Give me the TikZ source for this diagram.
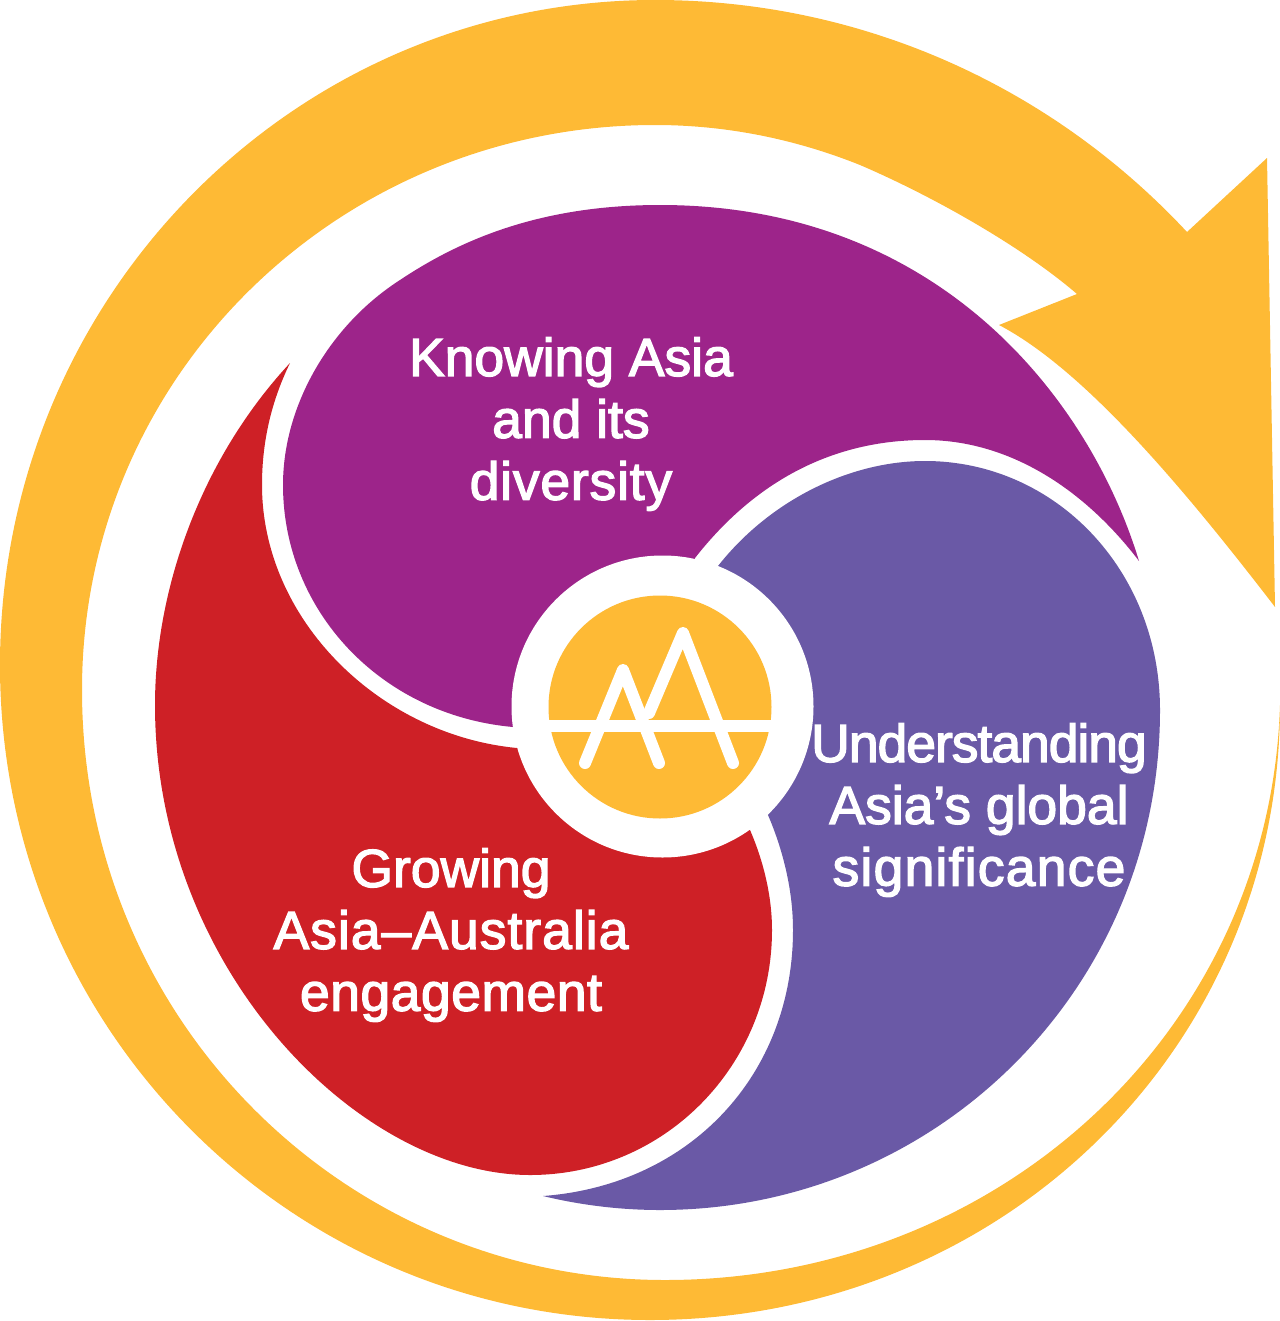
\documentclass[tikz,border=0pt]{standalone}
\usepackage{fontspec}
\newfontfamily\segfont[FakeBold=2.5]{Liberation Sans}
\definecolor{gold}{HTML}{FEBA35}
\definecolor{plum}{HTML}{9D248A}
\definecolor{slate}{HTML}{6A59A6}
\definecolor{crimson}{HTML}{CE2026}
\newcommand{\trk}[2]{{\addfontfeature{LetterSpace=#1}#2}}
\tikzset{
  seg_t/.style = {white, align=center, inner sep=0pt, font=\segfont\fontsize{15.2}{17.6}\selectfont},
  logo_l/.style = {white, line width=0.12cm, line cap=round, line join=round}
}
\begin{document}
\begin{tikzpicture}[x=0.01cm,y=-0.01cm]
  \useasboundingbox (0,0) rectangle (1280,1321);
  % outer arrow
  \fill[gold] (1187,232) .. controls (1050,85) and (860,0) .. (655,0)
    .. controls (293,0) and (0,298) .. (0,665)
    .. controls (0,1028) and (290,1320) .. (650,1320)
    .. controls (1000,1320) and (1280,1050) .. (1280,705)
    .. controls (1270,1030) and (1000,1280) .. (665,1280)
    .. controls (345,1280) and (82,1020) .. (82,690)
    .. controls (82,375) and (340,125) .. (655,125)
    .. controls (740,125) and (810,145) .. (860,165)
    .. controls (930,195) and (1020,245) .. (1077,294)
    -- (999,325)
    .. controls (1085,370) and (1185,490) .. (1275,607)
    -- (1267,158) -- cycle;
  % three segments
  \fill[plum] (1139,561) .. controls (1090,400) and (940,205) .. (660,205)
    .. controls (540,205) and (460,240) .. (400,280)
    .. controls (330,325) and (283,405) .. (283,485)
    .. controls (283,610) and (380,715) .. (513,727)
    -- (662,707) -- (695,558)
    .. controls (760,475) and (840,440) .. (925,440)
    .. controls (1010,440) and (1085,490) .. (1139,561) -- cycle;
  \fill[slate] (718,566) .. controls (770,500) and (850,461) .. (925,461)
    .. controls (1055,461) and (1160,570) .. (1160,710)
    .. controls (1160,990) and (935,1210) .. (660,1210)
    .. controls (620,1210) and (580,1205) .. (543,1196)
    .. controls (690,1185) and (793,1075) .. (793,930)
    .. controls (793,890) and (783,850) .. (768,815)
    -- (662,707) -- cycle;
  \fill[crimson] (290,363) .. controls (200,460) and (155,590) .. (155,705)
    .. controls (155,970) and (360,1175) .. (530,1175)
    .. controls (665,1175) and (772,1065) .. (772,930)
    .. controls (772,895) and (763,860) .. (750,830)
    -- (662,707) -- (517,748)
    .. controls (380,735) and (262,620) .. (262,485)
    .. controls (262,440) and (272,400) .. (290,363) -- cycle;
  % centre logo
  \fill[white] (662.5,706.5) circle (151);
  \fill[gold] (660,707) circle (111.5);
  \fill[white] (548,720) rectangle (771,732);
  \draw[logo_l] (585,763) -- (623,670) -- (659,763);
  \draw[logo_l] (649,713) -- (683,633) -- (733,763);
  % labels
  \node[seg_t] (know) at (571,424) {Knowing Asia\\and its\\\trk{1.5}{diversity}};
  \node[seg_t] (understand) at (979,810) {\trk{-1.9}{Understanding}\\Asia’s global\\\trk{2.3}{significance}};
  \node[seg_t] (grow) at (451,935) {Growing\\\trk{1.9}{Asia–Australia}\\\trk{1}{engagement}};
\end{tikzpicture}
\end{document}
